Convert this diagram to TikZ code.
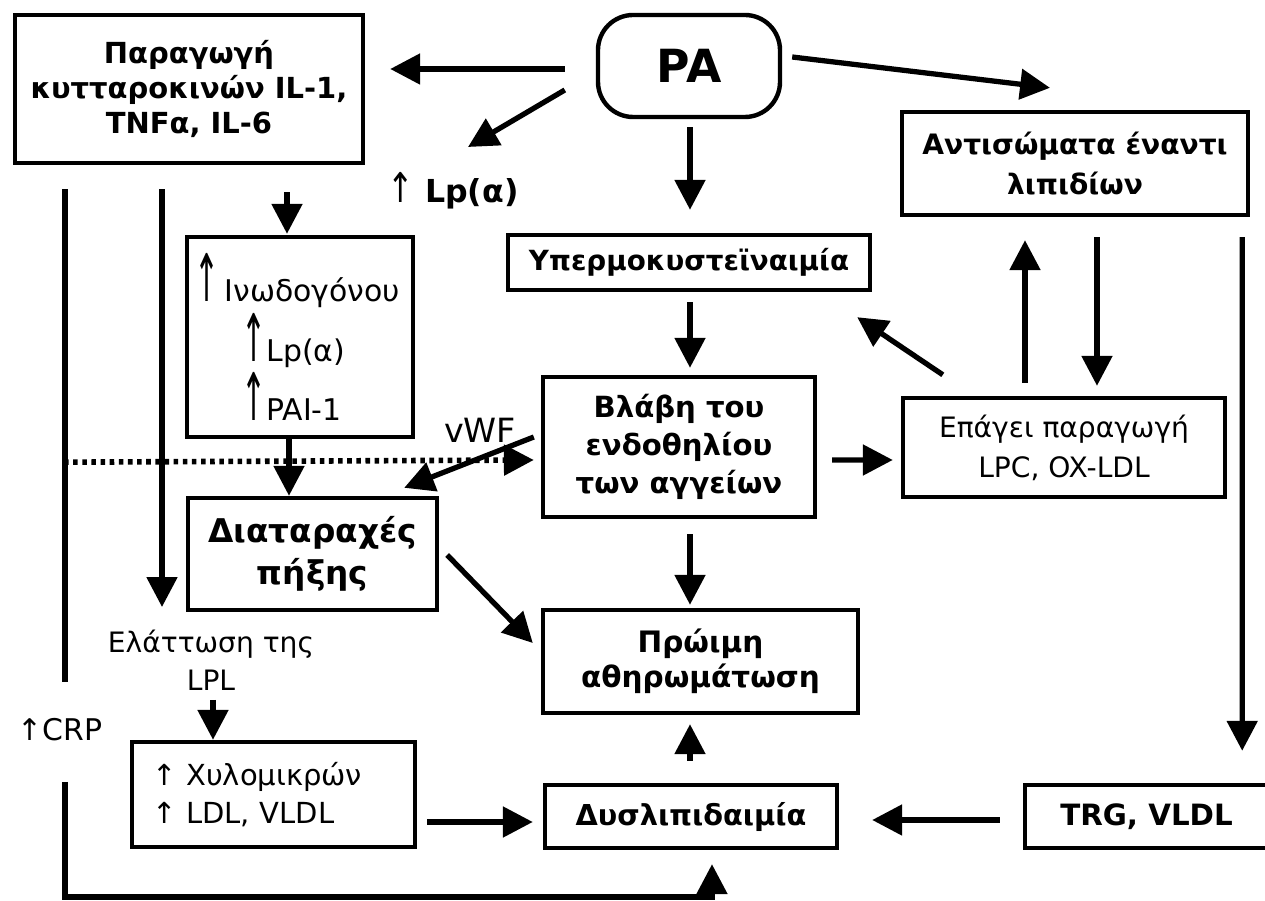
\documentclass[tikz,border=0pt]{standalone}
\usepackage{fontspec}
\setmainfont{DejaVu Sans}
\usepackage{graphicx}
\usetikzlibrary{arrows.meta}
\newcommand\pxu{0.02cm}
\newcommand\tallup{\scalebox{1}[2.2]{↑}}
\newcommand\fsz[2]{\fontsize{#1}{#2}\selectfont}
\begin{document}
\begin{tikzpicture}[x=0.02cm,y=-0.02cm,
  box/.style={draw, line width=2.5pt, align=center, inner sep=0pt},
  arr/.style={line width=3pt, -{Triangle[length=17pt,width=17pt]}},
  plain/.style={line width=3pt},
  lbl/.style={align=center, inner sep=0pt}]
\useasboundingbox (0,0) rectangle (1265,901);

% nodes
\node[box, minimum width=348*\pxu, minimum height=148*\pxu, font=\bfseries\fsz{16.5}{20}] (prod) at (189,89)
  {Παραγωγή\\κυτταροκινών IL-1,\\TNFα, IL-6};
\node[box, rounded corners=20pt, minimum width=182*\pxu, minimum height=102*\pxu, font=\bfseries\fsz{26}{30}] (pa) at (689,66) {PA};
\node[lbl, font=\bfseries\fsz{18}{20}] (lpa) at (453,191) {{\mdseries\scalebox{1}[1.3]{↑}} Lp(α)};
\node[box, minimum width=346*\pxu, minimum height=103*\pxu, font=\bfseries\fsz{16}{22.7}] (anti) at (1075,163.5)
  {Αντισώματα έναντι\\λιπιδίων};
\node[box, minimum width=226*\pxu, minimum height=200*\pxu, text width=120pt, align=left, font=\fsz{17}{34}] (fib) at (300,337)
  {\tallup\,Ινωδογόνου\\\hspace*{0.94cm}\tallup Lp(α)\\\hspace*{0.94cm}\tallup PAI-1};
\node[box, minimum width=362*\pxu, minimum height=55*\pxu, font=\bfseries\fsz{15.8}{19}] (hyper) at (689,262.5) {Υπερμοκυστεϊναιμία};
\node[box, minimum width=272*\pxu, minimum height=140*\pxu, font=\bfseries\fsz{16.6}{21.8}] (blavi) at (679,447)
  {Βλάβη του\\ενδοθηλίου\\των αγγείων};
\node[box, minimum width=322*\pxu, minimum height=99*\pxu, font=\fsz{16}{22.7}] (epagei) at (1064,447.5)
  {Επάγει παραγωγή\\LPC, OX-LDL};
\node[box, minimum width=249*\pxu, minimum height=112*\pxu, font=\bfseries\fsz{18.6}{24}] (diat) at (312.5,554)
  {Διαταραχές\\πήξης};
\node[box, minimum width=315*\pxu, minimum height=103*\pxu, font=\bfseries\fsz{16.8}{20}] (proimi) at (700.5,661.5)
  {Πρώιμη\\αθηρωμάτωση};
\node[box, minimum width=292*\pxu, minimum height=63*\pxu, font=\bfseries\fsz{16.4}{20}] (dys) at (691,816.5) {Δυσλιπιδαιμία};
\node[box, minimum width=243*\pxu, minimum height=63*\pxu, font=\bfseries\fsz{16.7}{19}] (trg) at (1146.5,816.5) {TRG, VLDL};
\node[box, minimum width=283*\pxu, minimum height=105*\pxu, text width=138pt, align=left, font=\fsz{16.5}{22}] (chylo) at (273.5,794.5)
  {↑ Χυλομικρών\\↑ LDL, VLDL};
\node[lbl, font=\fsz{16}{21.5}] (elat) at (211,660) {Ελάττωση της\\LPL};
\node[lbl, font=\fsz{17}{19}] (crp) at (60,730) {↑CRP};
\node[lbl, font=\fsz{19}{21}] (vwf) at (480,430) {vWF};

% connectors
\draw[arr] ([shift={(-31,3)}]pa.west) -- ([shift={(25,-20)}]prod.east);
\draw[arr] ([shift={(-31,24)}]pa.west) -- ([shift={(15,-44)}]lpa.center);
\draw[arr] ([shift={(1,8)}]pa.south) -- ([shift={(1,-23)}]hyper.north);
\draw[arr] ([shift={(10,-9)}]pa.east) -- ([shift={(-25,-22)}]anti.north);
\draw[arr] ([shift={(98,27)}]prod.south) -- ([shift={(-13,-1)}]fib.north);
\draw[arr] ([shift={(1,10)}]hyper.south) -- ([shift={(11,-7)}]blavi.north);
\draw[arr] ([shift={(11,15)}]blavi.south) -- ([shift={(-10.5,-3)}]proimi.north);
\draw[arr] ([shift={(-1,-22)}]dys.north) -- ([shift={(-10.5,9)}]proimi.south);
\draw[arr] ([shift={(10,27.5)}]chylo.east) -- ([shift={(-10,5.5)}]dys.west);
\draw[arr] ([shift={(-23,3.5)}]trg.west) -- ([shift={(33,3.5)}]dys.east);
\draw[arr] ([shift={(-8,20)}]anti.south east) -- ([shift={(-28,-32)}]trg.north east);
\draw[arr] ([shift={(-39,-13)}]epagei.north) -- ([shift={(-50,23)}]anti.south);
\draw[arr] ([shift={(22,20)}]anti.south) -- ([shift={(33,-10)}]epagei.north);
\draw[arr] ([shift={(42,-21)}]epagei.north west) -- ([shift={(-15,25)}]hyper.south east);
\draw[arr] ([shift={(15,13)}]blavi.east) -- ([shift={(-8,12.5)}]epagei.west);
\coordinate (dotstart) at ([shift={(-125,297)}]prod.south);
\draw[line width=3.2pt, dash pattern=on 2.6pt off 2.6pt, -{Triangle[length=17pt,width=17pt]}]
  (dotstart) -- ([shift={(-7,13)}]blavi.west);
\draw[arr] ([shift={(-7,-10)}]blavi.west) -- ([shift={(-35,-8)}]diat.north east);
\draw[arr] ([shift={(8,1)}]diat.east) -- ([shift={(-8,-18.5)}]proimi.west);
\draw[arr] ([shift={(-11,0)}]fib.south) -- ([shift={(-23.5,0)}]diat.north);
\draw[arr] ([shift={(-27,24)}]prod.south) -- ([shift={(-49,-53)}]elat.center);
\draw[arr] ([shift={(2,40)}]elat.center) -- ([shift={(-60.5,0)}]chylo.north);
\draw[plain] ([shift={(-124,24)}]prod.south) -- ([shift={(5,-48)}]crp.center);
\draw[arr] ([shift={(5,52)}]crp.center) -- ++(0,115) -| ([shift={(21,14)}]dys.south);
\end{tikzpicture}
\end{document}
